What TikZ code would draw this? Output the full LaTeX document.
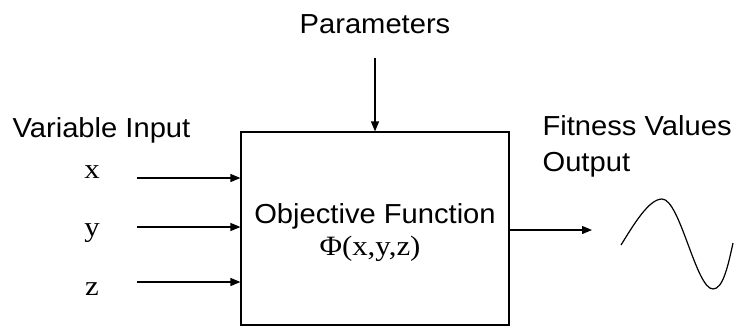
\documentclass[tikz,border=0pt]{standalone}
\usepackage{fontspec}
\setmainfont{Liberation Sans}[FakeStretch=1.06]
\newfontfamily\serifface{Liberation Serif}[FakeStretch=1.1]
\usetikzlibrary{arrows.meta}
\begin{document}
\begin{tikzpicture}[x=1pt,y=-1pt,
  line width=1.2pt,
  sanslabel/.style={font=\fontsize{27.5}{30}\selectfont, inner sep=0pt},
  seriflabel/.style={font=\serifface\fontsize{28}{31}\selectfont, inner sep=0pt},
  feed/.style={-{Triangle[length=10pt,width=8pt]}},
  funcbox/.style={draw, minimum width=268pt, minimum height=193pt, inner sep=0pt}]
\useasboundingbox (0,0) rectangle (739,327);

% central block
\node[funcbox] (obj) at (375,228.5) {};
\node[sanslabel, anchor=base] (objname) at (375,223) {Objective Function};
\node[seriflabel, anchor=base] (phi) at (370,255) {Φ(x,y,z)};

% parameters from above
\node[sanslabel, anchor=base] (params) at (375,33) {Parameters};
\coordinate (ptop) at (375,58);
\draw[feed] (ptop) -- (ptop |- obj.north);

% variable inputs
\node[sanslabel, anchor=base west] (varin) at (12,137) {Variable Input};
\node[seriflabel, anchor=base] (lx) at (92,178) {x};
\node[seriflabel, anchor=base] (ly) at (92,236) {y};
\node[seriflabel, anchor=base] (lz) at (92,295) {z};
\coordinate (xin) at (137,178);
\coordinate (yin) at (137,227);
\coordinate (zin) at (137,282);
\draw[feed] (xin) -- (xin -| obj.west);
\draw[feed] (yin) -- (yin -| obj.west);
\draw[feed] (zin) -- (zin -| obj.west);

% fitness output
\node[sanslabel, anchor=base west] (fit) at (542,135) {Fitness Values};
\node[sanslabel, anchor=base west] (outp) at (542,171) {Output};
\coordinate (oend) at (592,230);
\draw[feed] (oend -| obj.east) -- (oend);

% output waveform
\coordinate (w0) at (621,245);
\coordinate (w1) at (662,199);
\coordinate (w2) at (713,289);
\coordinate (w3) at (733,243);
\draw (w0) .. controls (634,224) and (649,199) .. (w1)
  .. controls (680,199) and (696,289) .. (w2)
  .. controls (723,289) and (728,266) .. (w3);
\end{tikzpicture}
\end{document}
